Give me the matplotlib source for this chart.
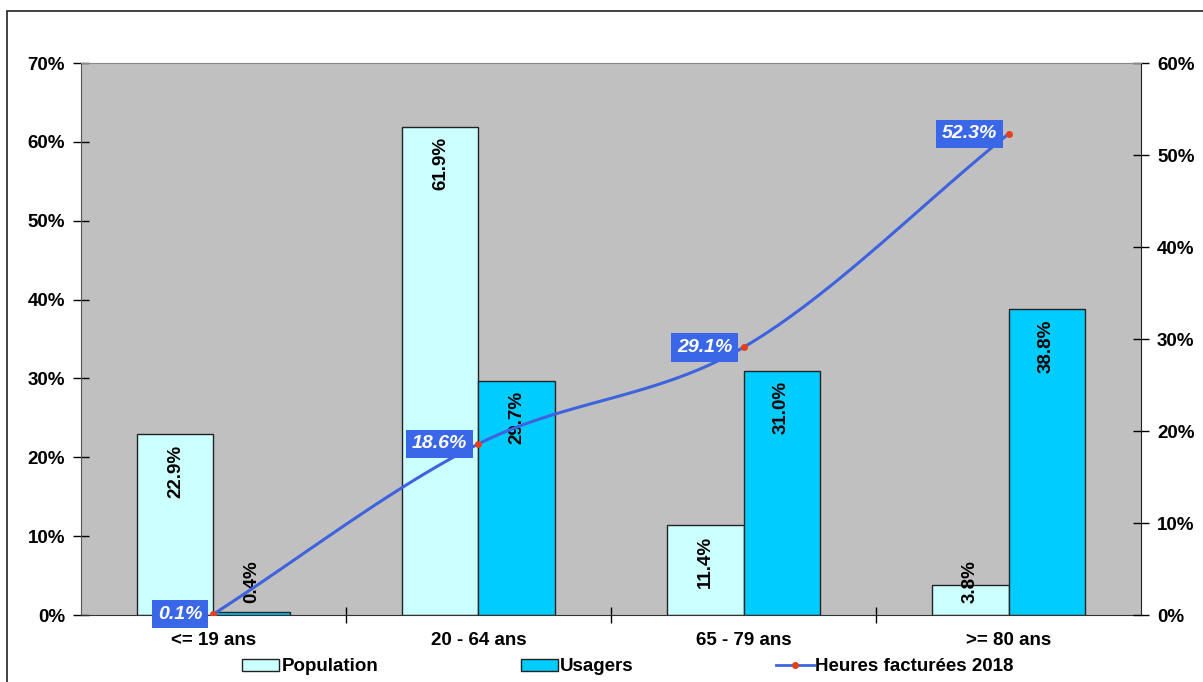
import matplotlib.pyplot as plt
import matplotlib.patches as mpatches
from matplotlib.ticker import FuncFormatter, FixedLocator
import numpy as np

plt.rcParams['font.family'] = ['Liberation Sans', 'DejaVu Sans']
plt.rcParams['font.weight'] = 'bold'

categories = ['<= 19 ans', '20 - 64 ans', '65 - 79 ans', '>= 80 ans']
population = [22.9, 61.9, 11.4, 3.8]
usagers = [0.4, 29.7, 31.0, 38.8]
heures_2018 = [0.1, 18.6, 29.1, 52.3]

x = np.arange(len(categories))
w = 0.287

fig = plt.figure(figsize=(12.03, 6.82), dpi=100)
ax = fig.add_axes([0.0673, 0.0982, 0.8812, 0.8094])
ax.set_facecolor('#c0c0c0')

ax.bar(x - w / 2, population, w, color='#ccffff', edgecolor='#222222', linewidth=1, zorder=2,
       label='Population')
ax.bar(x + w / 2, usagers, w, color='#00ccff', edgecolor='#222222', linewidth=1, zorder=2,
       label='Usagers')

# vertical value labels, clamped so short bars keep the text above the axis
for xs, vals in ((x - w / 2, population), (x + w / 2, usagers)):
    for xi, v in zip(xs, vals):
        top = max(v - 1.3, 6.9)
        ax.text(xi, top, f'{v:.1f}%', rotation=90, ha='center', va='top',
                fontsize=13.5, fontweight='bold', zorder=5)

ax.set_xlim(-0.5, 3.5)
ax.set_ylim(0, 70)
ax.set_yticks(np.arange(0, 71, 10))
ax.yaxis.set_major_formatter(FuncFormatter(lambda v, p: f'{v:.0f}%'))
ax.set_xticks(x)
ax.set_xticklabels(categories)
ax.xaxis.set_minor_locator(FixedLocator([0.5, 1.5, 2.5]))
ax.tick_params(axis='x', which='major', length=0, pad=12, labelsize=13.5)
ax.tick_params(axis='x', which='minor', direction='inout', length=11, width=1)
ax.tick_params(axis='y', direction='inout', length=11, width=1, labelsize=13.5, pad=6)
for lbl in ax.get_xticklabels() + ax.get_yticklabels():
    lbl.set_fontweight('bold')
for s in ['top', 'right']:
    ax.spines[s].set_visible(False)
ax.spines['left'].set_color('#555555')
ax.spines['bottom'].set_color('#333333')

ax2 = ax.twinx()
ax2.set_ylim(0, 60)
ax2.set_yticks(np.arange(0, 61, 10))
ax2.yaxis.set_major_formatter(FuncFormatter(lambda v, p: f'{v:.0f}%'))
ax2.tick_params(axis='y', direction='inout', length=11, width=1, labelsize=13.5, pad=6)
for lbl in ax2.get_yticklabels():
    lbl.set_fontweight('bold')
ax2.spines['top'].set_color('#888888')
ax2.spines['left'].set_visible(False)
ax2.spines['bottom'].set_visible(False)
ax2.spines['right'].set_color('#222222')

# smoothed line (Catmull-Rom through the points, in roughly screen-scaled units)
hx = np.array(x, dtype=float)
hy = np.array(heures_2018, dtype=float)
sy = 9.2 / 265.0
px = np.concatenate([[2 * hx[0] - hx[1]], hx, [2 * hx[-1] - hx[-2]]])
py = np.concatenate([[2 * hy[0] - hy[1]], hy, [2 * hy[-1] - hy[-2]]]) * sy
cx, cy = [], []
t = np.linspace(0, 1, 40)
for i in range(1, len(px) - 2):
    p0, p1, p2, p3 = [np.array([px[j], py[j]]) for j in range(i - 1, i + 3)]
    seg = 0.5 * ((2 * p1)[:, None] + (-p0 + p2)[:, None] * t
                 + (2 * p0 - 5 * p1 + 4 * p2 - p3)[:, None] * t ** 2
                 + (-p0 + 3 * p1 - 3 * p2 + p3)[:, None] * t ** 3)
    cx.extend(seg[0])
    cy.extend(seg[1] / sy)
ax2.plot(cx, cy, color='#3f63de', linewidth=2.2, zorder=3)
ax2.plot(hx, hy, linestyle='none', marker='o', markersize=4, color='#e5401a', zorder=4)

for xi, v in zip(hx, hy):
    ax2.annotate(f'{v:.1f}%', (xi, v), xytext=(-11, 0), textcoords='offset pixels',
                 ha='right', va='center', fontsize=14, fontweight='bold', style='italic',
                 color='white', zorder=6,
                 bbox=dict(boxstyle='square,pad=0.3', facecolor='#3a66e8', edgecolor='none'))

line_handle = plt.Line2D([], [], color='#3f63de', linewidth=2, marker='o', markersize=4,
                         markerfacecolor='#e5401a', markeredgecolor='#e5401a')
pop_handle = mpatches.Patch(facecolor='#ccffff', edgecolor='#222222', label='Population')
usa_handle = mpatches.Patch(facecolor='#00ccff', edgecolor='#222222', label='Usagers')
fig.legend([pop_handle, usa_handle, line_handle],
           ['Population', 'Usagers', 'Heures facturées 2018'],
           loc='center', bbox_to_anchor=(0.522, 0.022), ncol=3, frameon=False,
           prop={'size': 13.5, 'weight': 'bold'}, handlelength=2.0, handleheight=0.6,
           handletextpad=0.1, columnspacing=7.6)

# outer chart frame
fig.patches.append(mpatches.Rectangle((7 / 1203, -0.02), 1.1, 1 - 11 / 682 + 0.02,
                                      transform=fig.transFigure, fill=False,
                                      edgecolor='#222222', linewidth=1.2))

fig.savefig('out.png', dpi=100)
